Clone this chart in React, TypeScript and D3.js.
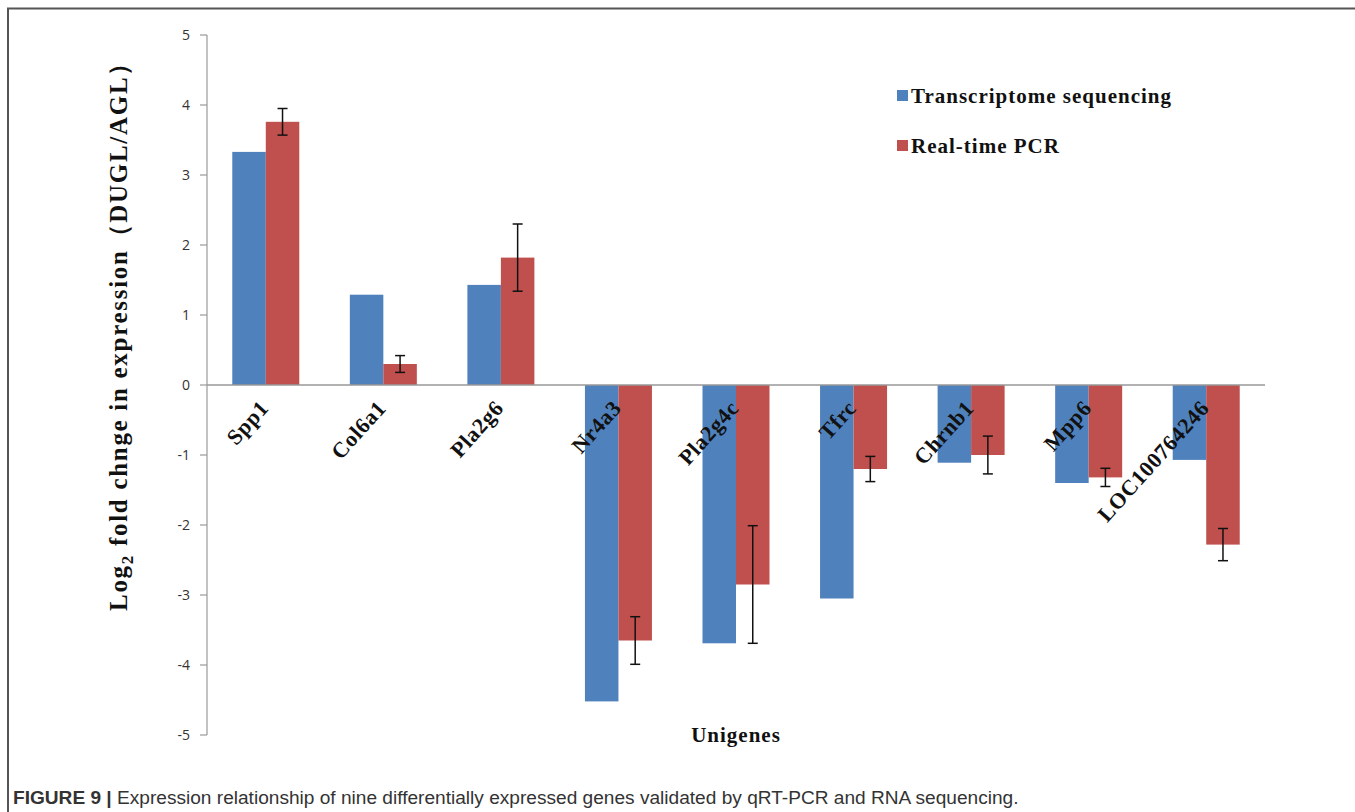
import React from 'react';
import * as d3 from 'd3';

const genes = ['Spp1', 'Col6a1', 'Pla2g6', 'Nr4a3', 'Pla2g4c', 'Tfrc', 'Chrnb1', 'Mpp6', 'LOC100764246'];
const seqValues = [3.33, 1.29, 1.43, -4.52, -3.69, -3.05, -1.11, -1.4, -1.07];
const pcrValues = [3.76, 0.3, 1.82, -3.65, -2.85, -1.2, -1.0, -1.32, -2.28];
const pcrErrors = [0.19, 0.12, 0.48, 0.34, 0.84, 0.18, 0.27, 0.13, 0.23];
const yTicks = [5, 4, 3, 2, 1, 0, -1, -2, -3, -4, -5];
const seriesNames = ['Transcriptome sequencing', 'Real-time PCR'];

const BLUE = '#4f81bd';
const RED = '#c0504d';
const AXIS = '#999';
const SERIF = '"Liberation Serif", "Times New Roman", serif';

const App = () => {
  const left = 207;
  const right = 1265;
  const top = 35;
  const bottom = 735;

  const x = d3.scaleBand().domain(genes).range([left, right]).paddingInner(0.43).paddingOuter(0.215);
  const sub = d3.scaleBand().domain(['seq', 'pcr']).range([0, x.bandwidth()]);
  const y = d3.scaleLinear().domain([-5, 5]).range([bottom, top]);
  const y0 = y(0);

  return (
    <svg width={1355} height={812} style={{ position: 'absolute', left: 0, top: 0, background: '#fff' }}>
      {/* frame */}
      <path d="M8,900 V8.5 H1400" fill="none" stroke="#555" strokeWidth={2} />

      {/* bars */}
      {genes.map((g, i) => (
        <g key={g}>
          <rect
            x={x(g)! + sub('seq')!}
            y={Math.min(y(seqValues[i]), y0)}
            width={sub.bandwidth()}
            height={Math.abs(y(seqValues[i]) - y0)}
            fill={BLUE}
          />
          <rect
            x={x(g)! + sub('pcr')!}
            y={Math.min(y(pcrValues[i]), y0)}
            width={sub.bandwidth()}
            height={Math.abs(y(pcrValues[i]) - y0)}
            fill={RED}
          />
        </g>
      ))}

      {/* y axis */}
      <line x1={left} x2={left} y1={top} y2={bottom} stroke={AXIS} strokeWidth={1.2} />
      {yTicks.map((t) => (
        <g key={t}>
          <line x1={left - 7} x2={left} y1={y(t)} y2={y(t)} stroke={AXIS} strokeWidth={1.2} />
          <text
            x={left - 17}
            y={y(t)}
            dy="0.35em"
            textAnchor="end"
            fontFamily='"Open Sans", "Liberation Sans", sans-serif'
            fontSize={14}
            fill="#333"
          >
            {t}
          </text>
        </g>
      ))}
      {/* zero line */}
      <line x1={left} x2={right} y1={y0} y2={y0} stroke={AXIS} strokeWidth={1.5} />

      {/* error bars */}
      {genes.map((g, i) => {
        const cx = x(g)! + sub('pcr')! + sub.bandwidth() / 2;
        const hi = y(pcrValues[i] + pcrErrors[i]);
        const lo = y(pcrValues[i] - pcrErrors[i]);
        return (
          <g key={g} stroke="#111" strokeWidth={1.5}>
            <line x1={cx} x2={cx} y1={hi} y2={lo} />
            <line x1={cx - 5} x2={cx + 5} y1={hi} y2={hi} />
            <line x1={cx - 5} x2={cx + 5} y1={lo} y2={lo} />
          </g>
        );
      })}

      {/* category labels */}
      {genes.map((g) => (
        <text
          key={g}
          transform={`translate(${x(g)! + x.bandwidth() / 2 + 4},${y0 + 24}) rotate(-48)`}
          textAnchor="end"
          fontFamily={SERIF}
          fontWeight="bold"
          fontSize={22}
          letterSpacing={0.6}
          fill="#111"
        >
          {g}
        </text>
      ))}

      {/* axis titles */}
      <text
        transform="translate(127,330) rotate(-90)"
        textAnchor="middle"
        fontFamily={SERIF}
        fontWeight="bold"
        fontSize={25}
        letterSpacing={1.7}
        fill="#111"
      >
        Log<tspan fontSize={17} dy={6}>2</tspan>
        <tspan dy={-6}> fold chnge in expression（DUGL/AGL）</tspan>
      </text>
      <text
        x={736}
        y={742}
        textAnchor="middle"
        fontFamily={SERIF}
        fontWeight="bold"
        fontSize={21}
        letterSpacing={1}
        fill="#111"
      >
        Unigenes
      </text>

      {/* legend */}
      {seriesNames.map((s, i) => (
        <g key={s} transform={`translate(897,${90 + i * 50})`}>
          <rect x={0} y={0} width={11} height={11} fill={i === 0 ? BLUE : RED} />
          <text x={14} y={13} fontFamily={SERIF} fontWeight="bold" fontSize={21} letterSpacing={1} fill="#111">
            {s}
          </text>
        </g>
      ))}

      {/* caption */}
      <text x={13} y={804} fontFamily='"Liberation Sans", Arial, sans-serif' fontSize={19.1} fill="#333">
        <tspan fontWeight="bold">FIGURE 9 | </tspan>
        Expression relationship of nine differentially expressed genes validated by qRT-PCR and RNA sequencing.
      </text>
    </svg>
  );
};

export default App;
